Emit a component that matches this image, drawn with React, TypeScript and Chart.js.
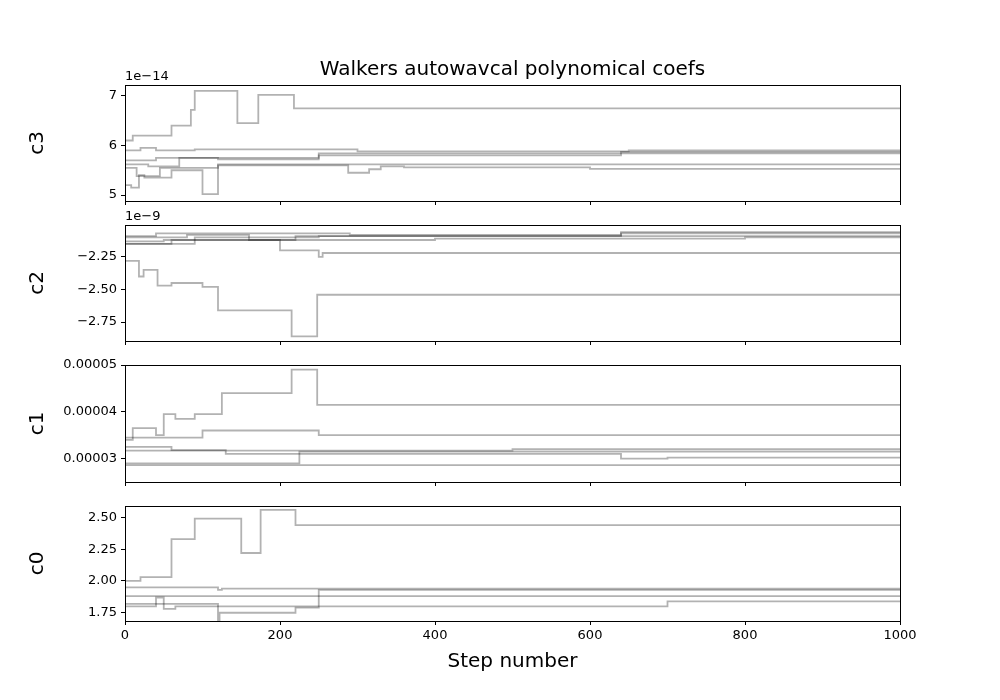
import React, { useEffect, useRef } from "react";
import { Chart, registerables } from "chart.js";
Chart.register(...registerables);

// change points [step, value] per walker
const c3Walkers: number[][][] = [
  [[0, 5.7], [10, 6.1], [60, 6.2], [85, 6.4], [90, 6.72], [145, 7.1], [172, 6.45], [218, 7.02], [228, 6.75], [1000, 6.75]],
  [[0, 5.6], [8, 5.2], [18, 5.15], [25, 5.4], [60, 5.35], [100, 5.5], [120, 5.02], [288, 5.6], [315, 5.45], [330, 5.52], [360, 5.58], [600, 5.56], [1000, 5.53]],
  [[0, 5.8], [20, 5.9], [40, 5.95], [90, 5.9], [120, 5.92], [300, 5.92], [650, 5.88], [1000, 5.9]],
  [[0, 5.75], [30, 5.62], [70, 5.58], [250, 5.75], [640, 5.8], [700, 5.87], [1000, 5.87]],
  [[0, 5.72], [40, 5.7], [120, 5.75], [250, 5.72], [660, 5.84], [1000, 5.84]],
  [[0, 5.65], [15, 5.55], [45, 5.38], [120, 5.55], [210, 5.62], [1000, 5.62]],
];
const c2Walkers: number[][][] = [
  [[0, -2.15], [18, -2.28], [24, -2.4], [42, -2.35], [60, -2.47], [100, -2.45], [120, -2.48], [215, -2.66], [248, -2.86], [703, -2.54], [1000, -2.54]],
  [[0, -2.12], [60, -2.15], [200, -2.12], [250, -2.2], [255, -2.25], [320, -2.22], [1000, -2.22]],
  [[0, -2.1], [40, -2.09], [290, -2.07], [640, -2.08], [660, -2.06], [1000, -2.06]],
  [[0, -2.14], [50, -2.13], [400, -2.12], [800, -2.11], [1000, -2.1]],
  [[0, -2.12], [80, -2.1], [160, -2.08], [220, -2.12], [640, -2.09], [1000, -2.07]],
  [[0, -2.17], [90, -2.15], [250, -2.1], [1000, -2.09]],
];
const c1Walkers: number[][][] = [
  [[0, 3.2], [10, 3.4], [40, 3.65], [50, 3.5], [65, 3.95], [90, 3.85], [125, 3.95], [215, 4.4], [248, 4.9], [703, 4.15], [1000, 4.15]],
  [[0, 3.25], [100, 3.45], [250, 3.6], [290, 3.5], [1000, 3.5]],
  [[0, 3.15], [60, 3.25], [130, 3.18], [640, 3.1], [700, 3.0], [1000, 3.02]],
  [[0, 3.12], [220, 2.9], [225, 2.9], [350, 3.15], [1000, 3.15]],
  [[0, 3.1], [230, 2.86], [1000, 2.86]],
  [[0, 3.15], [500, 3.17], [1000, 3.2]],
];
const c0Walkers: number[][][] = [
  [[0, 1.95], [20, 2.0], [60, 2.03], [90, 2.33], [150, 2.49], [175, 2.22], [220, 2.56], [230, 2.44], [1000, 2.44]],
  [[0, 1.93], [40, 1.8], [50, 1.87], [65, 1.78], [120, 1.8], [122, 1.69], [220, 1.75], [250, 1.79], [290, 1.93], [1000, 1.93]],
  [[0, 1.96], [120, 1.95], [125, 1.93], [1000, 1.94]],
  [[0, 1.9], [100, 1.88], [1000, 1.88]],
  [[0, 1.86], [120, 1.82], [290, 1.8], [700, 1.8], [705, 1.84], [1000, 1.84]],
];

const c3Ticks = [5, 6, 7];
const c2Ticks = [-2.75, -2.5, -2.25];
const c1Ticks = [3, 4, 5];
const c0Ticks = [1.75, 2.0, 2.25, 2.5];
const xTicks = [0, 200, 400, 600, 800, 1000];

const FONT = "'DejaVu Sans', sans-serif";

type Panel = {
  name: string; walkers: number[][][]; ticks: number[]; min: number; max: number;
  top: number; bottom: number; exp?: string; fmt: (v: number) => string; last?: boolean; title?: string;
};

const panels: Panel[] = [
  { name: "c3", walkers: c3Walkers, ticks: c3Ticks, min: 4.88, max: 7.22, top: 85, bottom: 201, exp: "1e\u221214", fmt: (v) => String(v), title: "Walkers autowavcal polynomical coefs" },
  { name: "c2", walkers: c2Walkers, ticks: c2Ticks, min: -2.895, max: -2.005, top: 225, bottom: 341, exp: "1e\u22129", fmt: (v) => "\u2212" + Math.abs(v).toFixed(2) },
  { name: "c1", walkers: c1Walkers, ticks: c1Ticks, min: 2.5, max: 5.0, top: 365, bottom: 482, fmt: (v) => (v / 100000).toFixed(5) },
  { name: "c0", walkers: c0Walkers, ticks: c0Ticks, min: 1.685, max: 2.59, top: 506, bottom: 621, fmt: (v) => v.toFixed(2), last: true },
];

function PanelChart({ p }: { p: Panel }) {
  const ref = useRef<HTMLCanvasElement>(null);
  useEffect(() => {
    const deco = {
      id: "deco",
      afterDraw(chart: any) {
        const { ctx, chartArea: a } = chart;
        ctx.save();
        ctx.strokeStyle = "#000";
        ctx.lineWidth = 1;
        ctx.strokeRect(a.left + 0.5, a.top + 0.5, a.right - a.left, a.bottom - a.top);
        ctx.fillStyle = "#000";
        if (p.exp) {
          ctx.font = `13px ${FONT}`;
          ctx.textAlign = "left";
          ctx.textBaseline = "bottom";
          ctx.fillText(p.exp, a.left, a.top - 2);
        }
        ctx.font = `20px ${FONT}`;
        ctx.textAlign = "center";
        ctx.textBaseline = "middle";
        if (p.title) ctx.fillText(p.title, (a.left + a.right) / 2, 70);
        if (p.last) ctx.fillText("Step number", (a.left + a.right) / 2, 662);
        ctx.translate(38, (a.top + a.bottom) / 2);
        ctx.rotate(-Math.PI / 2);
        ctx.fillText(p.name, 0, 0);
        ctx.restore();
      },
    };
    const chart = new Chart(ref.current!, {
      type: "line",
      data: {
        datasets: p.walkers.map((w) => ({
          data: w.map(([x, y]) => ({ x, y })),
          stepped: "after" as any,
          borderColor: "rgba(0,0,0,0.3)",
          borderWidth: 1.8,
          pointRadius: 0,
          fill: false,
        })),
      },
      options: {
        animation: false,
        responsive: false,
        events: [],
        layout: { padding: { top: p.top, right: 100, left: 0, bottom: 0 } },
        plugins: { legend: { display: false }, tooltip: { enabled: false } },
        scales: {
          x: {
            type: "linear", min: 0, max: 1000,
            afterFit: (s: any) => { s.height = 700 - p.bottom; },
            afterBuildTicks: (s: any) => { s.ticks = xTicks.map((v) => ({ value: v })); },
            grid: { display: true, drawOnChartArea: false, drawTicks: true, tickLength: 4, color: "#000" },
            border: { display: false },
            ticks: { display: !!p.last, color: "#000", font: { size: 13, family: FONT }, padding: 3, maxRotation: 0, callback: (v: any) => String(v) },
          },
          y: {
            type: "linear", min: p.min, max: p.max,
            afterFit: (s: any) => { s.width = 125; },
            afterBuildTicks: (s: any) => { s.ticks = p.ticks.map((v) => ({ value: v })); },
            grid: { display: true, drawOnChartArea: false, drawTicks: true, tickLength: 4, color: "#000" },
            border: { display: false },
            ticks: { color: "#000", font: { size: 13, family: FONT }, padding: 4, callback: (v: any) => p.fmt(Number(v)) },
          },
        },
      },
      plugins: [deco],
    });
    return () => chart.destroy();
  }, []);
  return <canvas ref={ref} width={1000} height={700} style={{ position: "absolute", left: 0, top: 0 }} />;
}

export default function App() {
  useEffect(() => { document.body.style.margin = "0"; }, []);
  return (
    <div style={{ position: "relative", width: 1000, height: 700, background: "#fff" }}>
      {panels.map((p) => <PanelChart key={p.name} p={p} />)}
    </div>
  );
}
